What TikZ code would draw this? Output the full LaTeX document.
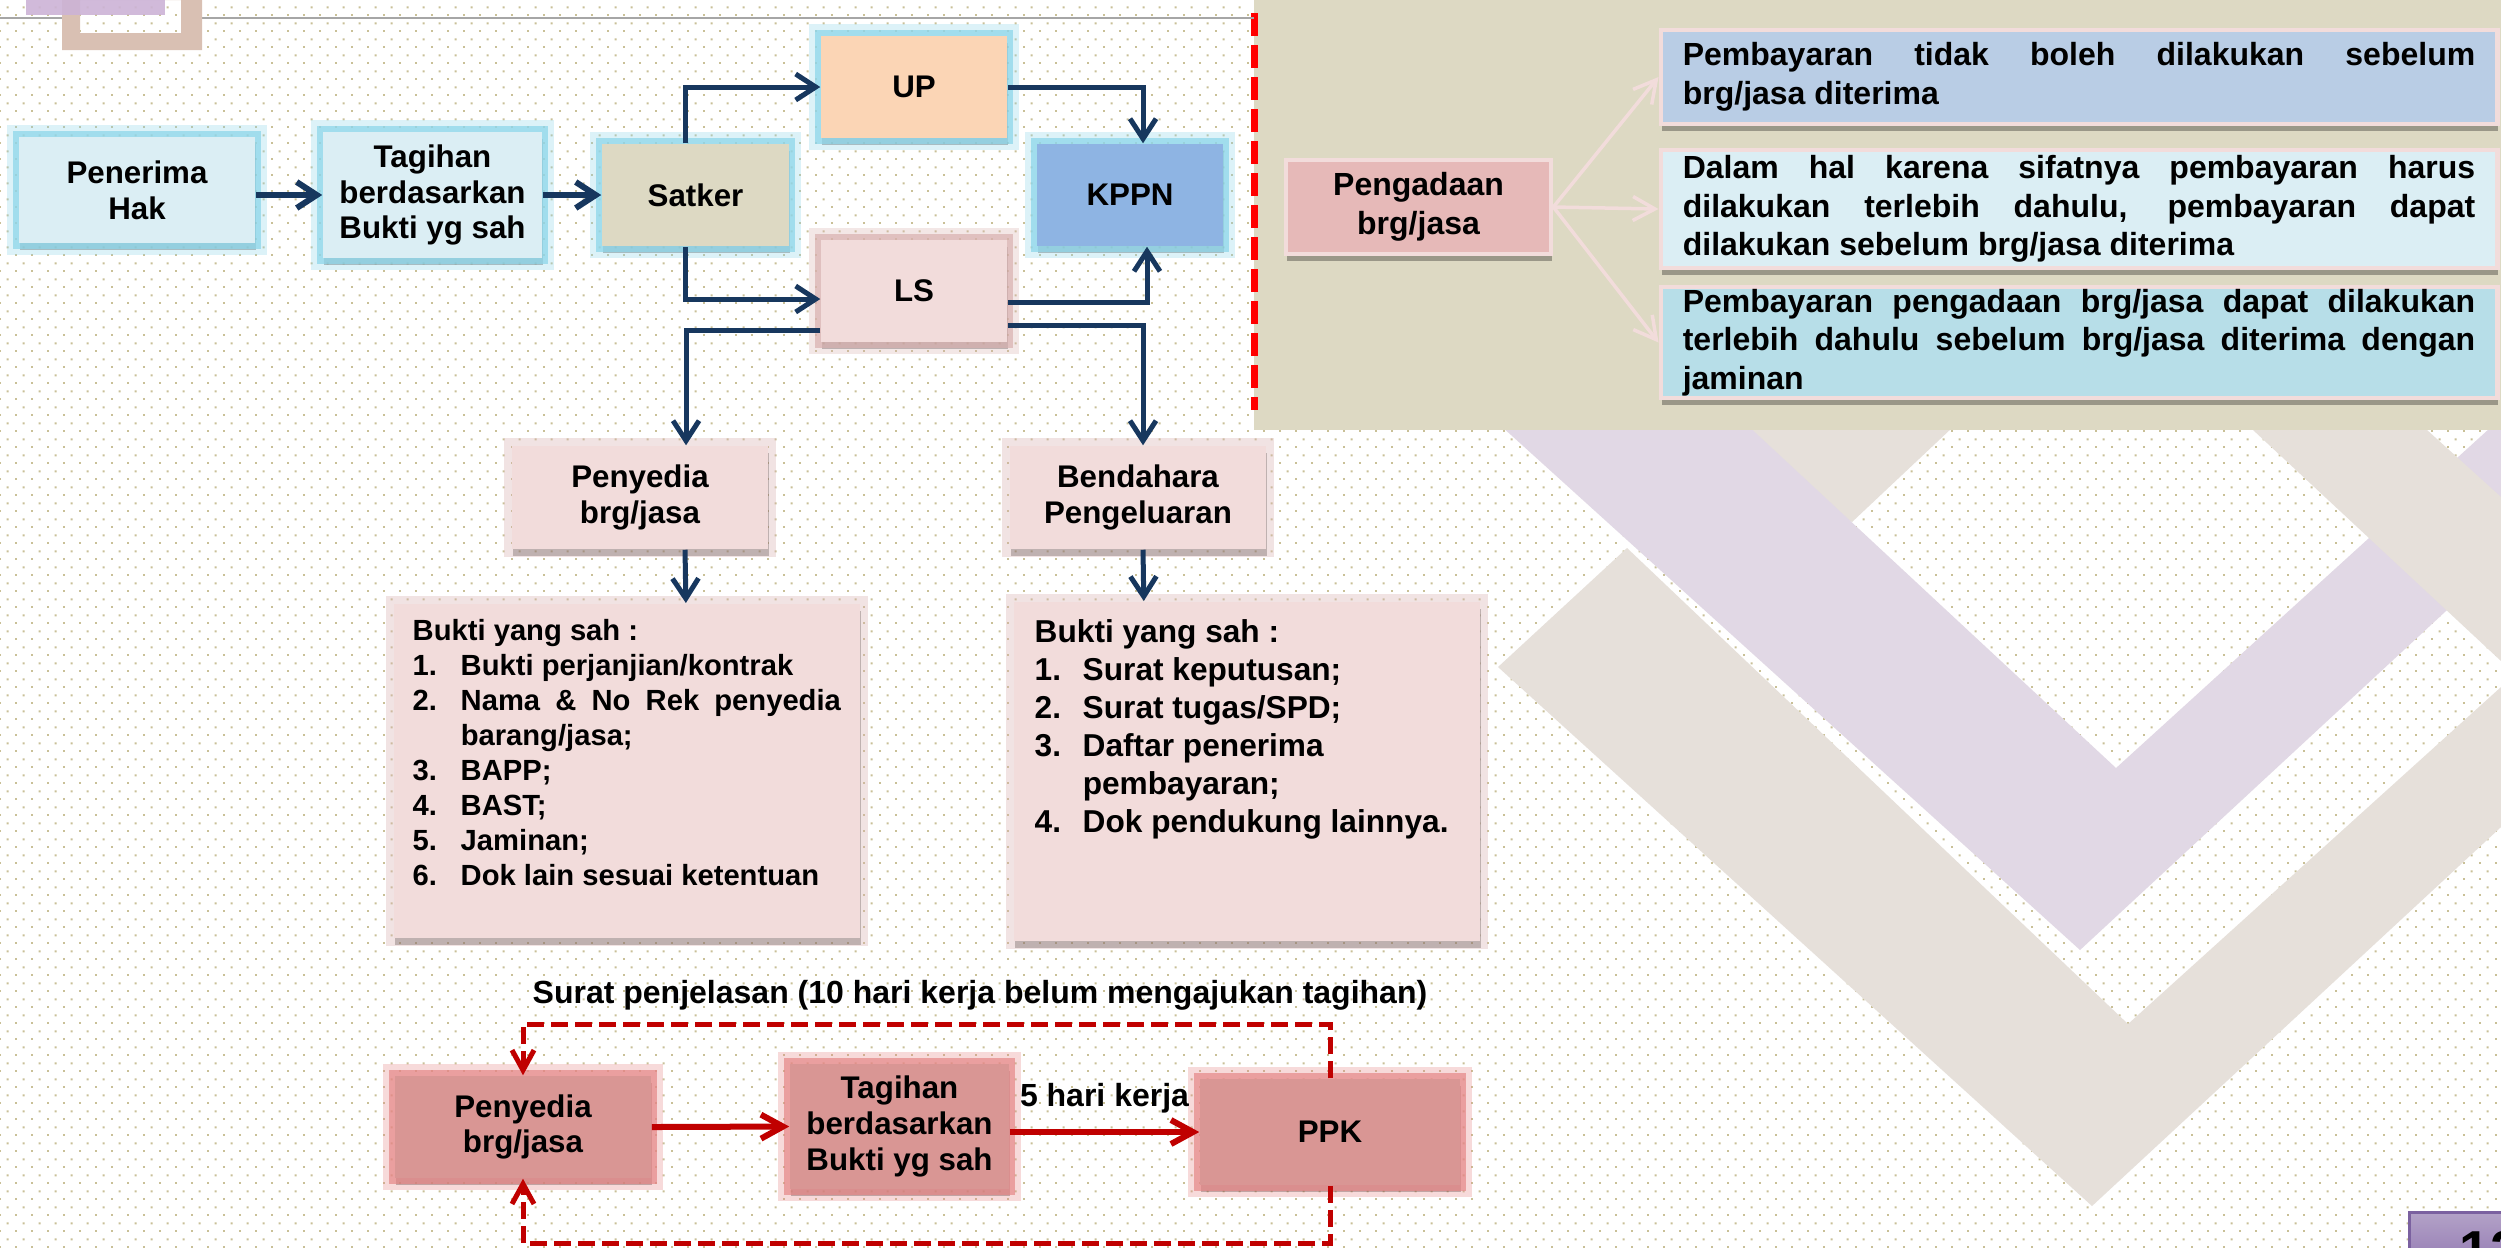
\documentclass[tikz,border=0pt]{standalone}
\usepackage{fontspec}
\setmainfont{Liberation Sans}
\usetikzlibrary{arrows.meta,shadows,patterns.meta}

\definecolor{hakblue}{HTML}{DBEEF4}
\definecolor{satkerbeige}{HTML}{DDD9C3}
\definecolor{uppeach}{HTML}{FBD5B5}
\definecolor{kppnblue}{HTML}{8EB4E3}
\definecolor{lspink}{HTML}{F2DCDB}
\definecolor{ppkred}{HTML}{D99694}
\definecolor{pengrose}{HTML}{E6B9B8}
\definecolor{noteblue}{HTML}{B9CDE5}
\definecolor{notelight}{HTML}{DBEEF4}
\definecolor{noteteal}{HTML}{B7DEE8}
\definecolor{glowcyan}{HTML}{8ED6EA}
\definecolor{glowpink}{HTML}{D8B0AF}
\definecolor{glowred}{HTML}{E58686}
\definecolor{arrnavy}{HTML}{17375E}
\definecolor{arrred}{HTML}{C00000}
\definecolor{panelbeige}{HTML}{DDD9C3}
\definecolor{chevgray}{HTML}{E6E0DA}
\definecolor{chevlilac}{HTML}{E1D8E5}
\definecolor{dotkhaki}{HTML}{C9C097}
\definecolor{logolilac}{HTML}{CCB3D6}
\definecolor{logotan}{HTML}{D9C0B3}
\definecolor{linegray}{HTML}{A6A6A6}
\definecolor{pagetop}{HTML}{B3A2C7}
\definecolor{pagebot}{HTML}{8568AA}
\definecolor{pageedge}{HTML}{7B61A0}

\tikzdeclarepattern{
  name=slidedots,
  type=uncolored,
  bottom left={(0pt,0pt)},
  top right={(4.5524pt,4.5524pt)},
  tile size={(4.5524pt,4.5524pt)},
  code={
    \pgfpathrectangle{\pgfpointorigin}{\pgfpoint{0.6pt}{0.6pt}}
    \pgfpathrectangle{\pgfpoint{2.2762pt}{2.2762pt}}{\pgfpoint{0.6pt}{0.6pt}}
    \pgfusepath{fill}
  }
}

\newcommand{\butir}[2]{\par\hangindent=0.48cm\hangafter=1\noindent\makebox[0.48cm][l]{#1.}#2}

\begin{document}
\begin{tikzpicture}[x=0.01cm,y=-0.01cm]
\tikzstyle{every node}=[font=\fontsize{8.9}{10.2}\selectfont\bfseries, align=center, inner sep=0pt]
\tikzstyle{notefont}=[font=\fontsize{9.1}{10.95}\selectfont\bfseries]
\tikzstyle{cyanglow}=[preaction={draw=glowcyan, line width=0.24cm, opacity=0.3}, preaction={draw=glowcyan, line width=0.12cm, opacity=0.75}]
\tikzstyle{pinkglow}=[preaction={draw=glowpink, line width=0.24cm, opacity=0.3}, preaction={draw=glowpink, line width=0.12cm, opacity=0.7}]
\tikzstyle{softglow}=[preaction={draw=glowpink, line width=0.16cm, opacity=0.35}]
\tikzstyle{redglow}=[preaction={draw=glowred, line width=0.24cm, opacity=0.3}, preaction={draw=glowred, line width=0.12cm, opacity=0.7}]
\tikzstyle{boxshade}=[drop shadow={shadow xshift=0.01cm, shadow yshift=-0.07cm, opacity=0.3, fill=black}]
\tikzstyle{flowbox}=[rectangle, boxshade]
\tikzstyle{notebox}=[rectangle, draw=lspink, line width=0.045cm, boxshade, notefont, inner xsep=0.22cm]
\tikzstyle{navyarr}=[draw=arrnavy, line width=0.05cm, -{Straight Barb[length=0.2cm, width=0.26cm]}]
\tikzstyle{navyfat}=[navyarr, line width=0.06cm]
\tikzstyle{redarr}=[draw=arrred, line width=0.06cm, -{Straight Barb[length=0.22cm, width=0.24cm]}]
\tikzstyle{reddash}=[draw=arrred, line width=0.05cm, dash pattern=on 0.17cm off 0.07cm, -{Straight Barb[length=0.2cm, width=0.22cm]}]
\tikzstyle{pinkarr}=[draw=lspink, line width=0.035cm, -{Straight Barb[length=0.22cm, width=0.24cm]}]

\useasboundingbox (0,0) rectangle (2501,1247);
\fill[white] (0,0) rectangle (2501,1247);
\fill[pattern=slidedots, pattern color=dotkhaki] (0,0) rectangle (2501,1247);

\fill[chevgray] (1498,667) -- (1627,548) -- (2128,1024) -- (2501,687) -- (2501,827) -- (2092,1206) -- cycle;
\fill[chevgray] (1500,300) -- (1852,522) -- (2056,330) -- cycle;
\fill[chevlilac] (1395,330) -- (2080,950) -- (2501,560) -- (2501,418) -- (2116,768) -- (1645,330) -- cycle;
\fill[chevgray] (2253,430) -- (2501,661) -- (2501,497) -- (2427,430) -- cycle;

\fill[panelbeige] (1254,0) rectangle (2501,430);
\draw[red, line width=0.07cm, dash pattern=on 0.23cm off 0.09cm] (1254,13) -- (1254,410);
\draw[linegray, line width=0.02cm] (0,18) -- (62,18);
\draw[linegray, line width=0.02cm] (202,18) -- (1254,18);
\fill[logotan, even odd rule] (62,0) rectangle (202,50) (80,0) rectangle (181,33);
\fill[logolilac, opacity=0.9] (26,0) rectangle (165,15);

\shadedraw[top color=pagetop, bottom color=pagebot, draw=pageedge, line width=0.03cm] (2409,1212) rectangle (2540,1290);
\node[anchor=base west, font=\fontsize{15.6}{18}\selectfont\bfseries] (halaman) at (2459,1269) {12};

\node[flowbox, cyanglow, fill=hakblue, minimum width=2.36cm, minimum height=1.06cm] (penerima) at (137,190) {Penerima\\Hak};
\node[flowbox, cyanglow, fill=hakblue, minimum width=2.19cm, minimum height=1.26cm] (tagihan) at (432.5,195) {Tagihan\\berdasarkan\\Bukti yg sah};
\node[flowbox, cyanglow, fill=satkerbeige, minimum width=1.87cm, minimum height=1.02cm] (satker) at (695.5,195) {Satker};
\node[flowbox, cyanglow, fill=uppeach, minimum width=1.86cm, minimum height=1.02cm] (up) at (914,87) {UP};
\node[flowbox, cyanglow, fill=kppnblue, minimum width=1.86cm, minimum height=1.02cm] (kppn) at (1130,195) {KPPN};
\node[flowbox, pinkglow, fill=lspink, minimum width=1.86cm, minimum height=1.02cm] (ls) at (914,291) {LS};
\node[flowbox, softglow, fill=lspink, minimum width=2.56cm, minimum height=1.03cm] (penyedia) at (640,497.5) {Penyedia\\brg/jasa};
\node[flowbox, softglow, fill=lspink, minimum width=2.56cm, minimum height=1.03cm] (bendahara) at (1138,497.5) {Bendahara\\Pengeluaran};
\node[flowbox, softglow, fill=lspink, anchor=north west, inner xsep=0.19cm, inner ysep=0.16cm] (buktiA) at (393,603) {\parbox[t][3.02cm][t]{4.28cm}{\fontsize{8.3}{9.95}\selectfont
Bukti yang sah :
\butir{1}{Bukti perjanjian/kontrak}
\butir{2}{Nama \& No Rek penyedia\linebreak barang/jasa;}
\butir{3}{BAPP;}
\butir{4}{BAST;}
\butir{5}{Jaminan;}
\butir{6}{Dok lain sesuai ketentuan}}};
\node[flowbox, softglow, fill=lspink, anchor=north west, inner xsep=0.21cm, inner ysep=0.18cm] (buktiB) at (1013,601) {\parbox[t][3.03cm][t]{4.24cm}{\fontsize{9}{10.8}\selectfont\raggedright
Bukti yang sah :
\butir{1}{Surat keputusan;}
\butir{2}{Surat tugas/SPD;}
\butir{3}{Daftar penerima pembayaran;}
\butir{4}{Dok pendukung lainnya.}}};

\draw[navyfat] (penerima.east |- tagihan.west) -- (tagihan.west);
\draw[navyfat] (tagihan.east) -- (satker.west);
\draw[navyarr] ([xshift=-0.1cm]satker.north) |- (up.west);
\draw[navyarr] (up.east) -| ([xshift=0.13cm]kppn.north);
\draw[navyarr] ([xshift=-0.1cm]satker.south) |- ([yshift=-0.08cm]ls.west);
\draw[navyarr] ([yshift=-0.11cm]ls.east) -| ([xshift=0.17cm]kppn.south);
\draw[navyarr] ([yshift=-0.39cm]ls.west) -| ([xshift=0.46cm]penyedia.north);
\draw[navyarr] ([yshift=-0.34cm]ls.east) -| ([xshift=0.05cm]bendahara.north);
\draw[navyarr] ([xshift=0.45cm]penyedia.south) -- ([xshift=0.59cm]buktiA.north);
\draw[navyarr] ([xshift=0.05cm]bendahara.south) -- ([xshift=-1.03cm]buktiB.north);

\node[notebox, fill=pengrose, minimum width=2.65cm, minimum height=0.94cm] (pengadaan) at (1418.5,207) {Pengadaan\\brg/jasa};
\node[notebox, fill=noteblue, text width=7.92cm, align=justify, minimum height=0.94cm] (syarat1) at (2079,77) {Pembayaran tidak boleh dilakukan sebelum\linebreak brg/jasa diterima};
\node[notebox, fill=notelight, text width=7.92cm, align=justify, minimum height=1.18cm] (syarat2) at (2079,209) {Dalam hal karena sifatnya pembayaran harus\linebreak dilakukan terlebih dahulu, pembayaran dapat\linebreak dilakukan sebelum brg/jasa diterima};
\node[notebox, fill=noteteal, text width=7.92cm, align=justify, minimum height=1.11cm] (syarat3) at (2079,342.5) {Pembayaran pengadaan brg/jasa dapat dilakukan\linebreak terlebih dahulu sebelum brg/jasa diterima dengan\linebreak jaminan};
\draw[pinkarr] (pengadaan.east) -- (syarat1.west);
\draw[pinkarr] (pengadaan.east) -- (syarat2.west);
\draw[pinkarr] (pengadaan.east) -- (syarat3.west);

\node[flowbox, redglow, fill=ppkred, minimum width=2.56cm, minimum height=1.02cm] (penyediaR) at (523,1127) {Penyedia\\brg/jasa};
\node[flowbox, redglow, fill=ppkred, minimum width=2.19cm, minimum height=1.25cm] (tagihanR) at (899.5,1126.5) {Tagihan\\berdasarkan\\Bukti yg sah};
\node[flowbox, redglow, fill=ppkred, minimum width=2.6cm, minimum height=1.06cm] (ppk) at (1330,1132) {PPK};
\node[notefont, anchor=base] (suratlbl) at (980,1003) {Surat penjelasan (10 hari kerja belum mengajukan tagihan)};
\coordinate (dashtop) at (523,1024);
\coordinate (dashbot) at (523,1243);

\draw[redarr] (penyediaR.east) -- (tagihanR.west);
\draw[redarr] (tagihanR.east |- ppk.west) -- node[notefont, above=0.16cm] (limahari) {5 hari kerja} (ppk.west);
\draw[reddash] (ppk.north) |- (dashtop) -- (penyediaR.north);
\draw[reddash] (ppk.south) |- (dashbot) -- (penyediaR.south);
\end{tikzpicture}
\end{document}
